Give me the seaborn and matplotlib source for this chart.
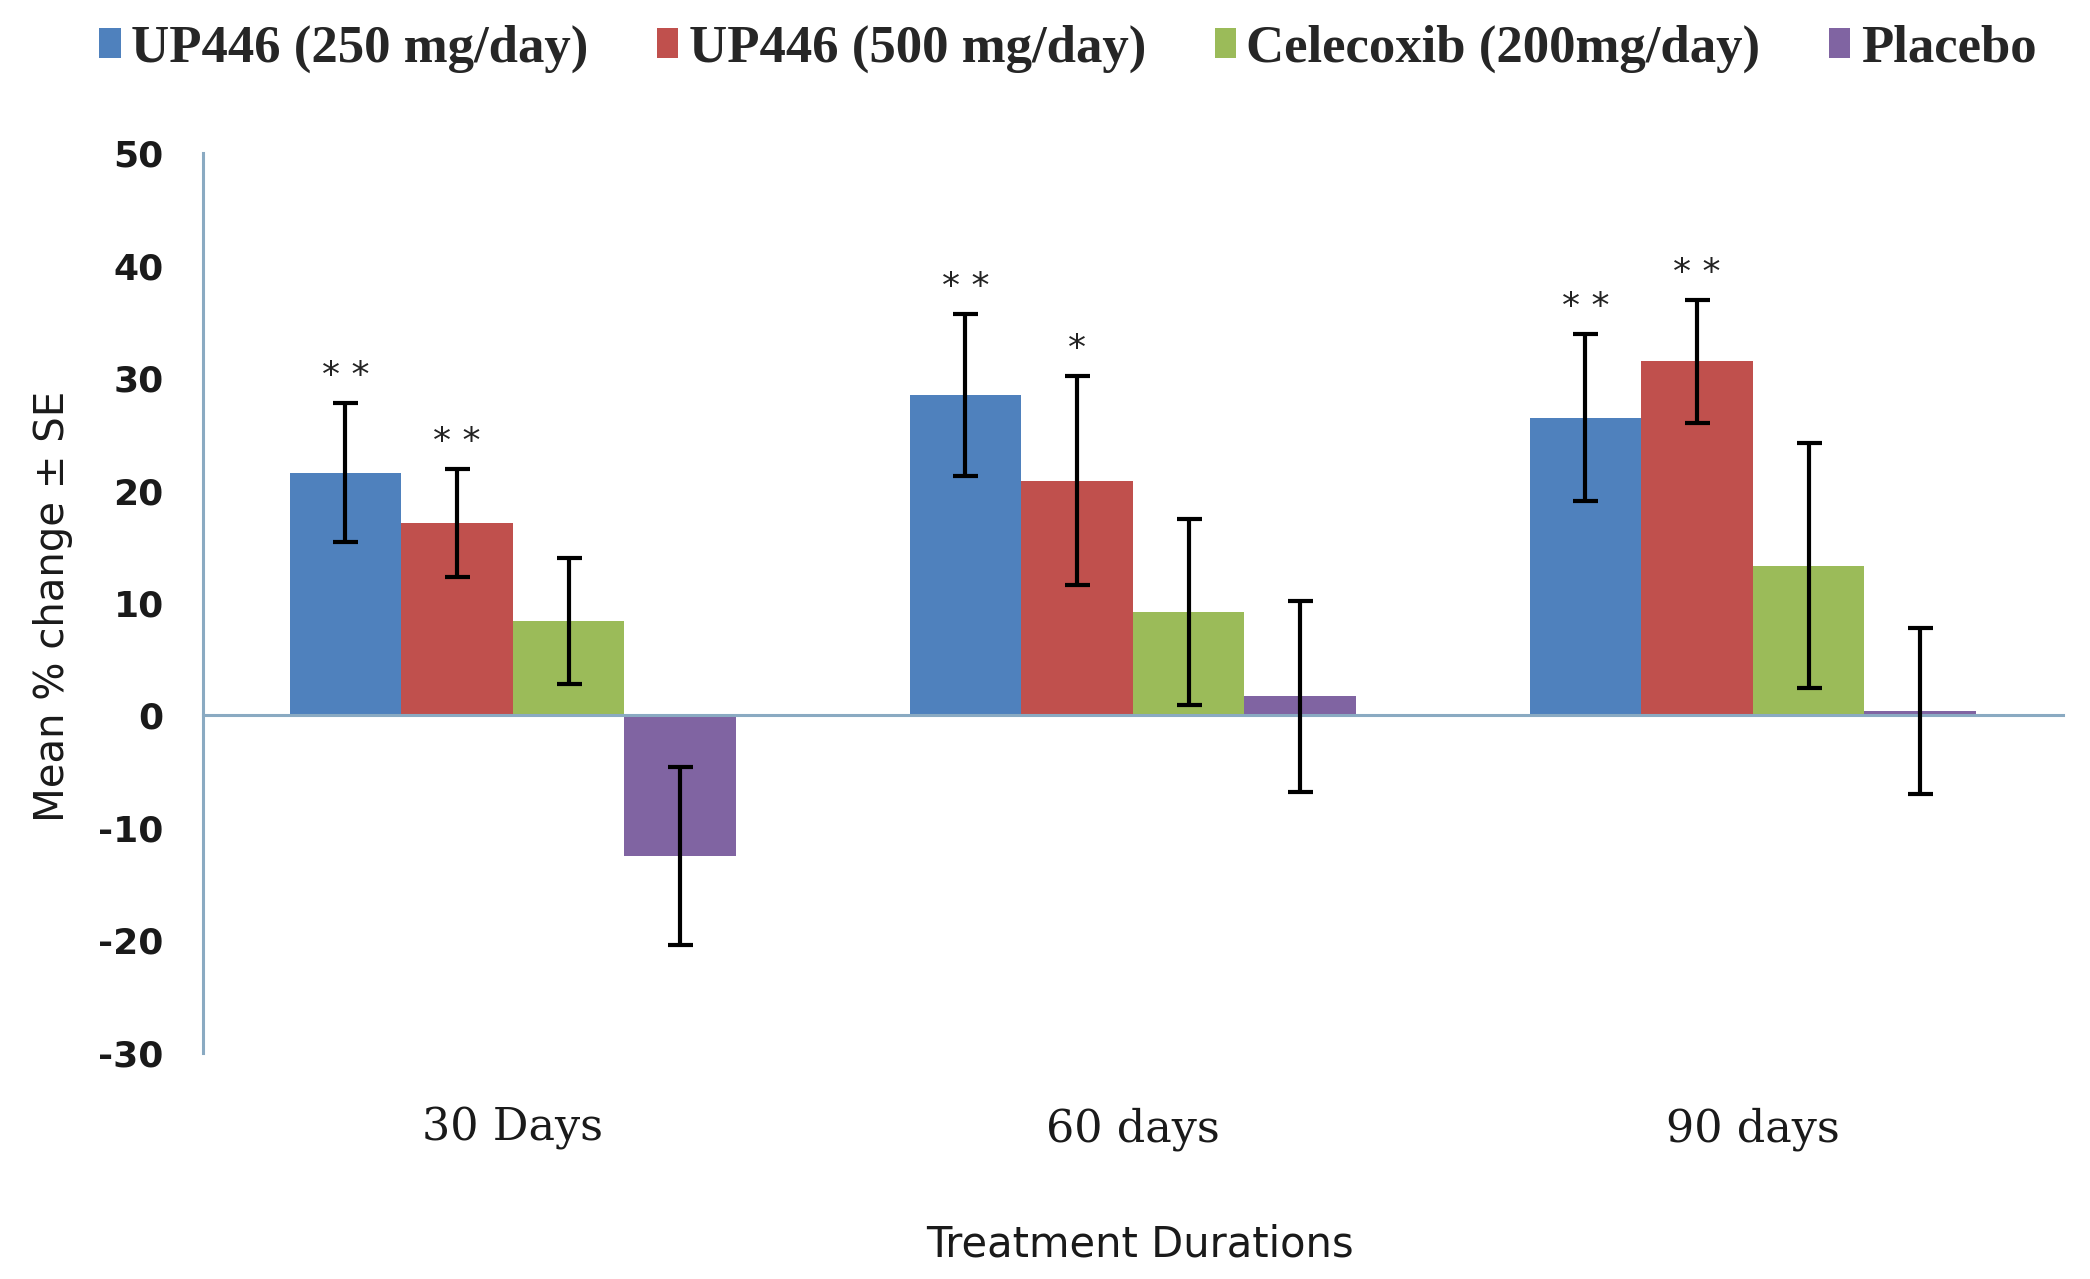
import numpy as np
import pandas as pd
import matplotlib
matplotlib.use("Agg")
import matplotlib.pyplot as plt
import seaborn as sns

# Categories / series
DURATIONS = ["30 Days", "60 days", "90 days"]
GROUPS = ["UP446 (250 mg/day)", "UP446 (500 mg/day)", "Celecoxib (200mg/day)", "Placebo"]
COLORS = ["#4F81BD", "#C0504D", "#9BBB59", "#8064A2"]

# Mean % change per duration
up250_mean = [21.6, 28.5, 26.5]
up500_mean = [17.1, 20.9, 31.5]
celecoxib_mean = [8.4, 9.2, 13.3]
placebo_mean = [-12.5, 1.7, 0.4]

# Standard errors
up250_se = [6.2, 7.2, 7.4]
up500_se = [4.8, 9.3, 5.5]
celecoxib_se = [5.6, 8.3, 10.9]
placebo_se = [7.9, 8.5, 7.4]

# Significance marks
up250_sig = ["* *", "* *", "* *"]
up500_sig = ["* *", "*", "* *"]
celecoxib_sig = ["", "", ""]
placebo_sig = ["", "", ""]

Y_TICKS = [-30, -20, -10, 0, 10, 20, 30, 40, 50]

means = [up250_mean, up500_mean, celecoxib_mean, placebo_mean]
ses = [up250_se, up500_se, celecoxib_se, placebo_se]
sigs = [up250_sig, up500_sig, celecoxib_sig, placebo_sig]

rows = []
for g, m in zip(GROUPS, means):
    for d, v in zip(DURATIONS, m):
        rows.append({"Duration": d, "Group": g, "Change": v})
df = pd.DataFrame(rows)

sns.set_style("white")
plt.rcParams["font.family"] = ["DejaVu Sans"]

AXIS_COLOR = "#8AAAC2"

fig = plt.figure(figsize=(20.9, 12.79), dpi=100)
ax = fig.add_axes([0.097, 0.177, 0.890, 0.703])

sns.barplot(data=df, x="Duration", y="Change", hue="Group", order=DURATIONS,
            hue_order=GROUPS, palette=COLORS, saturation=1, width=0.72,
            errorbar=None, linewidth=0, ax=ax)

# error bars and stars on top of the seaborn bars
for container, m, se, sg in zip(ax.containers, means, ses, sigs):
    xs = [p.get_x() + p.get_width() / 2 for p in container]
    ax.errorbar(xs, m, yerr=se, fmt="none", ecolor="black", elinewidth=3,
                capsize=9, capthick=3, zorder=5)
    for x, v, e, s in zip(xs, m, se, sg):
        if s:
            ax.text(x, v + e + 2.4, s, ha="center", va="center",
                    fontsize=26, color="#222222")

ax.set_ylim(-30, 50)
ax.set_yticks(Y_TICKS)
ax.set_yticklabels([str(t) for t in Y_TICKS], fontsize=26, fontweight="bold",
                   color="#1a1a1a")
ax.tick_params(axis="y", direction="out", length=14, width=2, color=AXIS_COLOR, pad=14)

for s in ["top", "right"]:
    ax.spines[s].set_visible(False)
ax.spines["left"].set_color(AXIS_COLOR)
ax.spines["left"].set_linewidth(2.2)
ax.spines["bottom"].set_position(("data", 0))
ax.spines["bottom"].set_color(AXIS_COLOR)
ax.spines["bottom"].set_linewidth(2.2)

ax.set_xlim(-0.5, 2.5)
ax.set_xticks([-0.5, 0.5, 1.5, 2.5], minor=True)
ax.tick_params(axis="x", which="minor", direction="out", length=14, width=2,
               color=AXIS_COLOR)
ax.tick_params(axis="x", which="major", length=0, pad=282)
ax.set_xticklabels(DURATIONS, fontsize=32, family="DejaVu Serif", color="#1a1a1a")

ax.set_xlabel("Treatment Durations", fontsize=30, color="#1a1a1a")
ax.xaxis.set_label_coords(0.504, -0.19)
ax.set_ylabel("Mean % change ± SE", fontsize=29, color="#1a1a1a")
ax.yaxis.set_label_coords(-0.07, 0.496)

handles, labels = ax.get_legend_handles_labels()
ax.legend_.remove()
fig.legend(handles, labels, loc="center", bbox_to_anchor=(0.511, 0.962), ncol=4,
           frameon=False, handlelength=0.4, handleheight=0.5, handletextpad=0.2,
           columnspacing=1.3,
           prop={"family": "Liberation Serif", "size": 38, "weight": "bold"})

fig.savefig("out.png", dpi=100)
